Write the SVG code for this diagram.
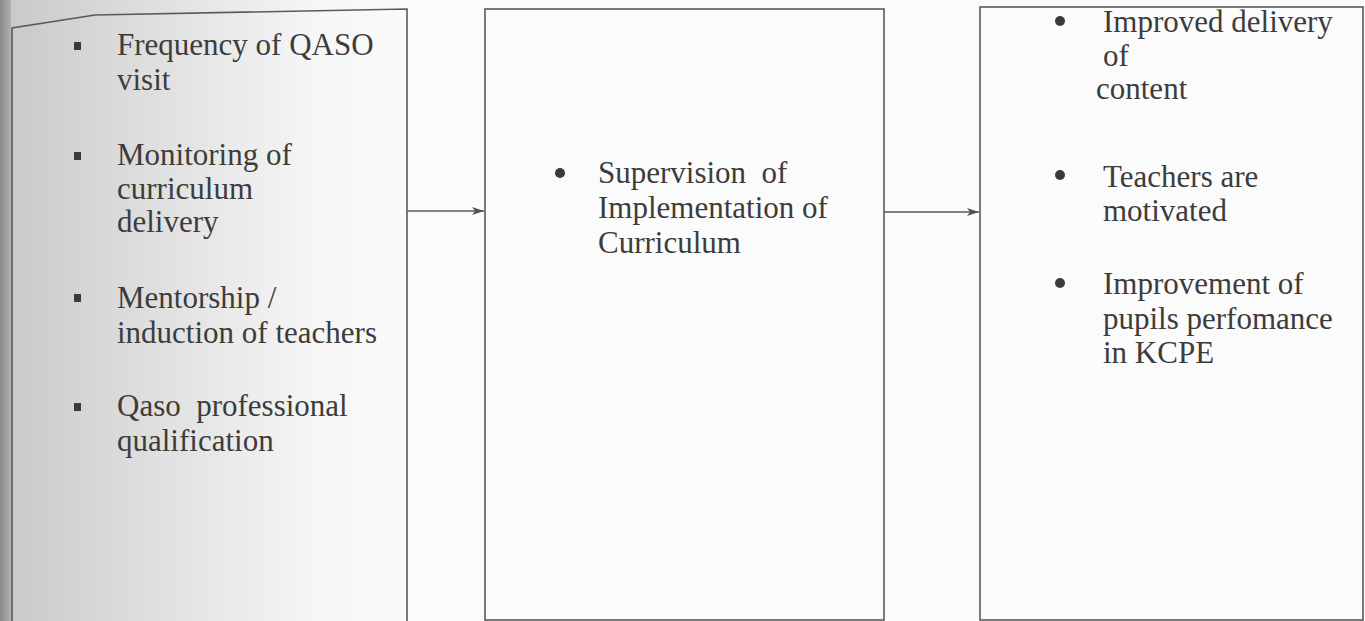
<svg xmlns="http://www.w3.org/2000/svg" width="1365" height="621" viewBox="0 0 1365 621">
  <defs>
    <linearGradient id="shade" x1="0" y1="0" x2="1" y2="0">
      <stop offset="0" stop-color="#c8c8c8"/>
      <stop offset="0.35" stop-color="#dedede"/>
      <stop offset="0.75" stop-color="#f6f6f6"/>
      <stop offset="1" stop-color="#fbfbfb"/>
    </linearGradient>
    <linearGradient id="edge" x1="0" y1="0" x2="1" y2="0">
      <stop offset="0" stop-color="#8a8a8a"/>
      <stop offset="1" stop-color="#b0b0b0"/>
    </linearGradient>
    <marker id="arrow" viewBox="0 0 12 10" refX="12" refY="5" markerWidth="12" markerHeight="10" markerUnits="userSpaceOnUse" orient="auto">
      <path d="M0,1 L12,5 L0,9 L3,5 Z" fill="#555"/>
    </marker>
    <style>
      .box { fill: none; stroke: #5a5a5a; stroke-width: 1.6; }
      .t { font-family: "Liberation Serif", "Times New Roman", serif; font-size: 31px; fill: #3c3c3c; white-space: pre; }
      .sq { fill: #3a3a3a; }
      .dot { fill: #3a3a3a; }
      .conn { stroke: #5a5a5a; stroke-width: 1.6; fill: none; }
    </style>
  </defs>

  <rect x="0" y="0" width="1365" height="621" fill="#fbfbfb"/>
  <rect x="0" y="0" width="420" height="621" fill="url(#shade)"/>
  <rect x="0" y="0" width="11" height="621" fill="url(#edge)"/>

  <g id="node-inputs">
    <polyline class="box" points="12,621 12,28 95,15 407,9 407,621"/>
    <rect class="sq" x="74" y="42" width="7" height="8"/>
    <text class="t" x="117" y="55">Frequency of QASO</text>
    <text class="t" x="117" y="90">visit</text>
    <rect class="sq" x="74" y="152" width="7" height="8"/>
    <text class="t" x="117" y="165">Monitoring of</text>
    <text class="t" x="117" y="199">curriculum</text>
    <text class="t" x="117" y="232">delivery</text>
    <rect class="sq" x="74" y="294" width="7" height="8"/>
    <text class="t" x="117" y="308">Mentorship /</text>
    <text class="t" x="117" y="343">induction of teachers</text>
    <rect class="sq" x="74" y="403" width="7" height="8"/>
    <text class="t" x="117" y="416" xml:space="preserve">Qaso  professional</text>
    <text class="t" x="117" y="451">qualification</text>
  </g>

  <g id="node-process">
    <rect class="box" x="485" y="9" width="399" height="611"/>
    <circle class="dot" cx="560" cy="173" r="5"/>
    <text class="t" x="598" y="183" xml:space="preserve">Supervision  of</text>
    <text class="t" x="598" y="218">Implementation of</text>
    <text class="t" x="598" y="253">Curriculum</text>
  </g>

  <g id="node-outcomes">
    <rect class="box" x="980" y="7" width="383" height="613"/>
    <circle class="dot" cx="1060" cy="21" r="5"/>
    <text class="t" x="1103" y="32">Improved delivery</text>
    <text class="t" x="1103" y="66">of</text>
    <text class="t" x="1096" y="99">content</text>
    <circle class="dot" cx="1060" cy="175" r="5"/>
    <text class="t" x="1103" y="187">Teachers are</text>
    <text class="t" x="1103" y="221">motivated</text>
    <circle class="dot" cx="1060" cy="283" r="5"/>
    <text class="t" x="1103" y="294">Improvement of</text>
    <text class="t" x="1103" y="329">pupils perfomance</text>
    <text class="t" x="1103" y="363">in KCPE</text>
  </g>

  <g id="connectors">
    <line class="conn" x1="407" y1="211" x2="484" y2="211" marker-end="url(#arrow)"/>
    <line class="conn" x1="884" y1="212" x2="979" y2="212" marker-end="url(#arrow)"/>
  </g>
</svg>
